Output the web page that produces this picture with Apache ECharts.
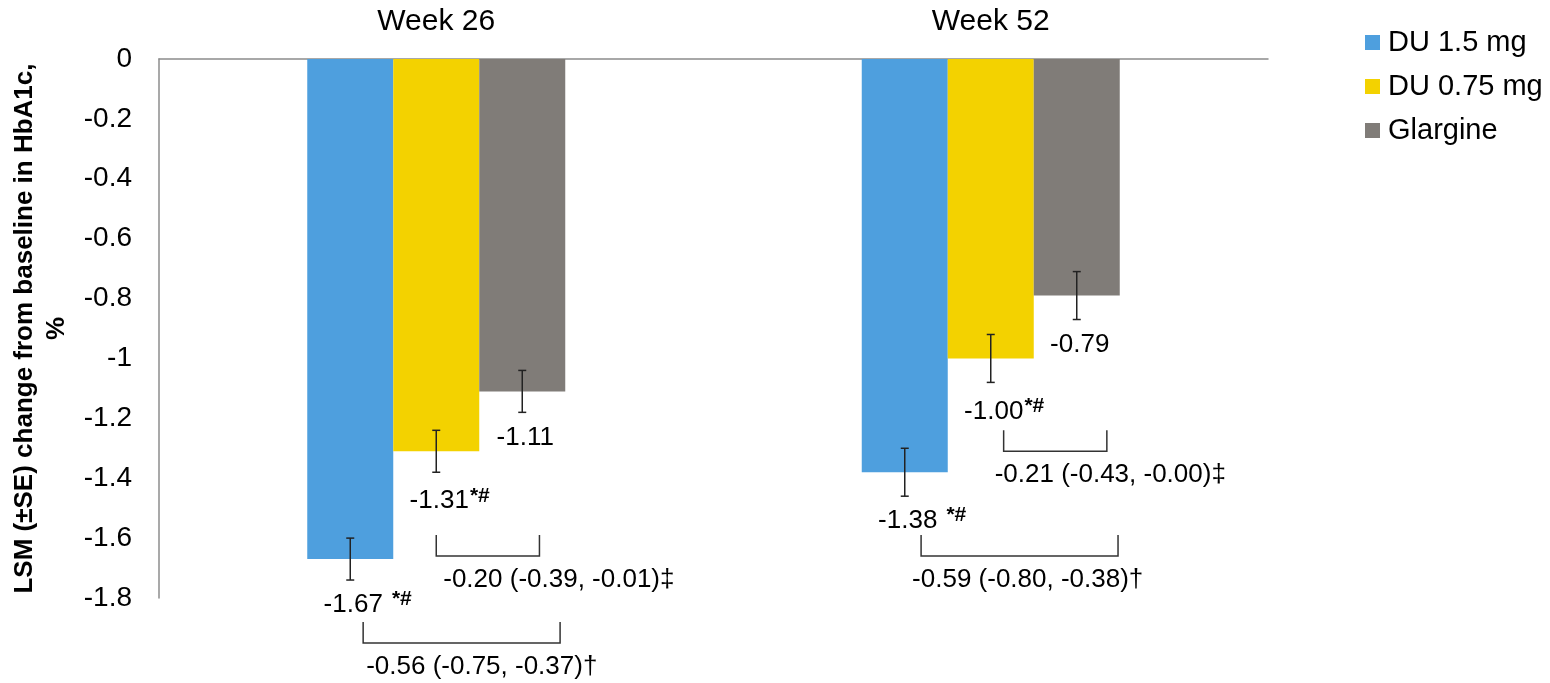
<!DOCTYPE html>
<html>
<head>
<meta charset="utf-8">
<title>HbA1c change from baseline</title>
<script src="https://cdn.jsdelivr.net/npm/echarts@6/dist/echarts.min.js"></script>
<style>
  html, body { margin: 0; padding: 0; background: #fff; }
  #chart { width: 1550px; height: 683px; }
</style>
</head>
<body>
<div id="chart"></div>
<script>
// ---- data ----
const categories = ['Week 26', 'Week 52'];
const seriesNames = ['DU 1.5 mg', 'DU 0.75 mg', 'Glargine'];

const du15 = [-1.67, -1.38];
const du075 = [-1.31, -1.00];
const glargine = [-1.11, -0.79];

const du15SE = [0.07, 0.08];
const du075SE = [0.07, 0.08];
const glargineSE = [0.07, 0.08];

const du15Marks = ['*#', '*#'];
const du075Marks = ['*#', '*#'];
const glargineMarks = ['', ''];

// pairwise treatment differences (week index, bar from, bar to, bracket level, text)
const cmpWeek = [0, 0, 1, 1];
const cmpFrom = [1, 0, 1, 0];
const cmpTo = [2, 2, 2, 2];
const cmpLevel = [-1.59, -1.88, -1.24, -1.59];
const cmpText = [
  '-0.20 (-0.39, -0.01)\u2021',
  '-0.56 (-0.75, -0.37)\u2020',
  '-0.21 (-0.43, -0.00)\u2021',
  '-0.59 (-0.80, -0.38)\u2020'
];

// ---- layout / style ----
const FONT = '"Liberation Sans", Arial, Helvetica, sans-serif';
const COLORS = ['#4e9fde', '#f3d200', '#807c78'];
const BAR_W = 86;
const INK = '#222';
// bracket end nudges (fractions of a bar width) and text shift (px)
const bracketNudge = [[0, 0.2, 7], [0.15, 0.44, 3], [0.15, 0.35, -9], [0.19, 0.48, -9]];
const BRACKET_H = 21;
const LABEL_DROP = [25, 29, 25];

const values = [du15, du075, glargine];
const ses = [du15SE, du075SE, glargineSE];
const marks = [du15Marks, du075Marks, glargineMarks];
const markGap = [9, 1, 0];

const measureCtx = document.createElement('canvas').getContext('2d');
function textWidth(str, size) {
  measureCtx.font = size + 'px ' + FONT;
  return measureCtx.measureText(str).width;
}

function barCenterX(api, cat, s) {
  return api.coord([cat, 0])[0] + (s - 1) * BAR_W;
}

// error bar items: [category, value, series, se]
const errorItems = [];
const errorRefs = [];
for (let s = 0; s < values.length; s++) {
  for (let c = 0; c < categories.length; c++) {
    errorItems.push([c, values[s][c], s, ses[s][c]]);
    errorRefs.push([s, c]);
  }
}

const cmpItems = cmpWeek.map((w, i) => [w, cmpLevel[i], i]);

const chart = echarts.init(document.getElementById('chart'), null, { renderer: 'canvas' });

const option = {
  animation: false,
  textStyle: { fontFamily: FONT },
  grid: { left: 159, right: 282, top: 59, bottom: 85, containLabel: false },
  legend: {
    data: seriesNames,
    orient: 'vertical',
    left: 1360,
    top: 23,
    icon: 'rect',
    itemWidth: 15,
    itemHeight: 15,
    itemGap: 15,
    selectedMode: false,
    textStyle: { fontSize: 29, color: '#000', fontFamily: FONT, padding: [0, 0, 0, 3] }
  },
  xAxis: {
    type: 'category',
    data: categories,
    position: 'top',
    axisLine: { onZero: false, lineStyle: { color: '#8c8c8c', width: 1.5 } },
    axisTick: { show: false },
    axisLabel: { fontSize: 30, margin: 22, color: '#000', fontFamily: FONT }
  },
  yAxis: {
    type: 'value',
    min: -1.8,
    max: 0,
    interval: 0.2,
    name: 'LSM (\u00B1SE) change from baseline in HbA1c,\n%',
    nameLocation: 'middle',
    nameGap: 83,
    nameTextStyle: { fontSize: 26, fontWeight: 'bold', color: '#000', lineHeight: 32, fontFamily: FONT },
    axisLine: { show: true, lineStyle: { color: '#8c8c8c', width: 1.5 } },
    axisTick: { show: false },
    splitLine: { show: false },
    axisLabel: { fontSize: 28, margin: 27, color: '#000', fontFamily: FONT }
  },
  series: [
    ...seriesNames.map((name, s) => ({
      name: name,
      type: 'bar',
      data: values[s],
      barWidth: BAR_W,
      barGap: '0%',
      itemStyle: { color: COLORS[s] },
      silent: true
    })),
    {
      name: 'errors',
      type: 'custom',
      coordinateSystem: 'cartesian2d',
      encode: { x: 0, y: 1 },
      data: errorItems,
      z: 5,
      silent: true,
      clip: false,
      renderItem: function (params, api) {
        const cat = api.value(0);
        const v = api.value(1);
        const s = api.value(2);
        const se = api.value(3);
        const ref = errorRefs[params.dataIndex];
        const cx = barCenterX(api, cat, s);
        const yTop = api.coord([cat, v + se])[1];
        const yBot = api.coord([cat, v - se])[1];
        const cap = 4;
        const lineStyle = { stroke: INK, lineWidth: 1.5 };
        const numText = v.toFixed(2);
        const numSize = 26;
        const lx = cx + 3;
        const ly = yBot + LABEL_DROP[s];
        const children = [
          { type: 'line', shape: { x1: cx, y1: yTop, x2: cx, y2: yBot }, style: lineStyle },
          { type: 'line', shape: { x1: cx - cap, y1: yTop, x2: cx + cap, y2: yTop }, style: lineStyle },
          { type: 'line', shape: { x1: cx - cap, y1: yBot, x2: cx + cap, y2: yBot }, style: lineStyle },
          {
            type: 'text',
            style: {
              x: lx, y: ly, text: numText, fill: '#000',
              font: numSize + 'px ' + FONT, textAlign: 'center', textVerticalAlign: 'middle'
            }
          }
        ];
        const mark = marks[ref[0]][ref[1]];
        if (mark) {
          const w = textWidth(numText, numSize);
          children.push({
            type: 'text',
            style: {
              x: lx + w / 2 + markGap[s], y: ly - 16, text: mark, fill: '#000',
              font: 'bold 21px ' + FONT, textAlign: 'left', textVerticalAlign: 'top'
            }
          });
        }
        return { type: 'group', children: children };
      }
    },
    {
      name: 'comparisons',
      type: 'custom',
      coordinateSystem: 'cartesian2d',
      encode: { x: 0, y: 1 },
      data: cmpItems,
      z: 5,
      silent: true,
      clip: false,
      renderItem: function (params, api) {
        const week = api.value(0);
        const level = api.value(1);
        const i = api.value(2);
        const nudge = bracketNudge[i];
        const x1 = barCenterX(api, week, cmpFrom[i]) + nudge[0] * BAR_W;
        const x2 = barCenterX(api, week, cmpTo[i]) + nudge[1] * BAR_W;
        const yTop = api.coord([week, level])[1];
        const yBot = yTop + BRACKET_H;
        return {
          type: 'group',
          children: [
            {
              type: 'polyline',
              shape: { points: [[x1, yTop], [x1, yBot], [x2, yBot], [x2, yTop]] },
              style: { stroke: '#333', lineWidth: 1.5, fill: null }
            },
            {
              type: 'text',
              style: {
                x: x1 + nudge[2], y: yBot + 24, text: cmpText[i], fill: '#000',
                font: '26px ' + FONT, textAlign: 'left', textVerticalAlign: 'middle'
              }
            }
          ]
        };
      }
    }
  ]
};

chart.setOption(option);
</script>
</body>
</html>
